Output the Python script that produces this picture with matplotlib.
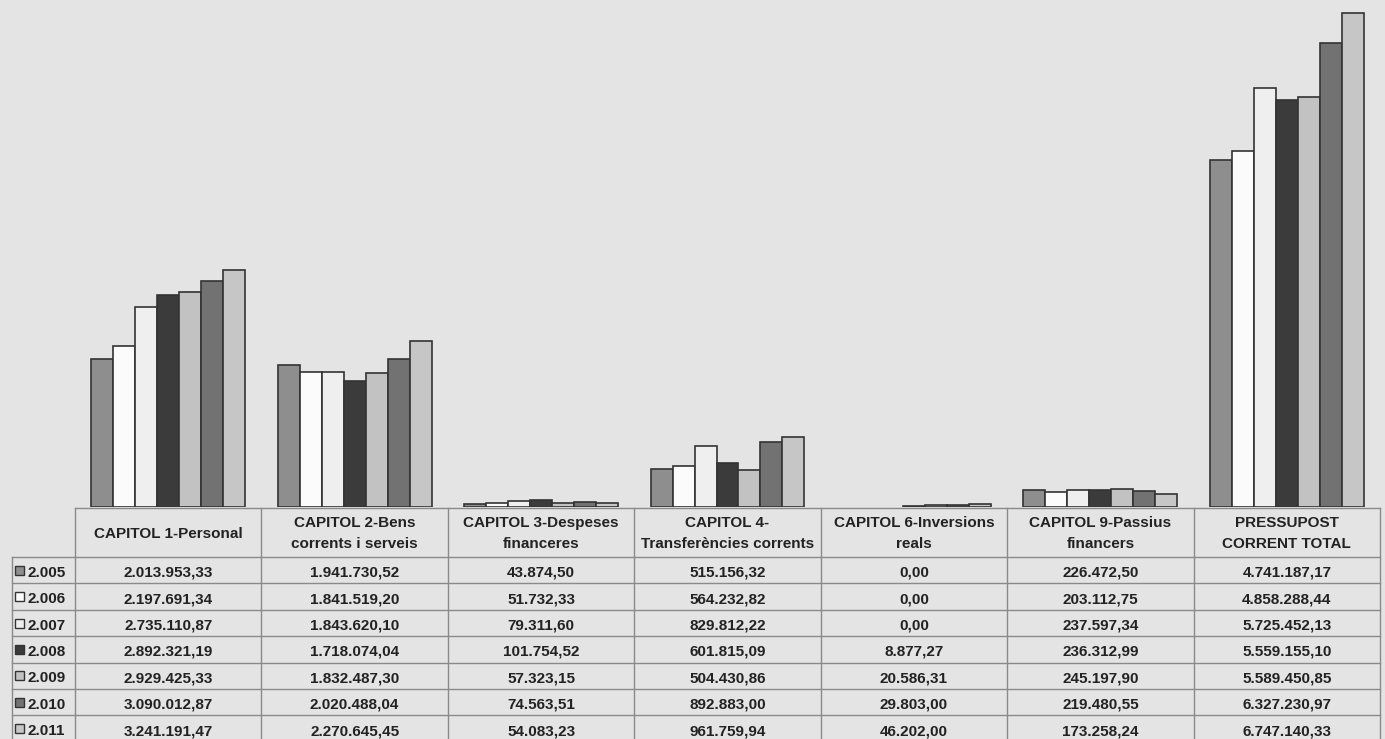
import numpy as np
import matplotlib.pyplot as plt

plt.rcParams['font.family'] = ['Liberation Sans', 'DejaVu Sans']

categories = ['CAPITOL 1-Personal', 'CAPITOL 2-Bens\ncorrents i serveis',
              'CAPITOL 3-Despeses\nfinanceres', 'CAPITOL 4-\nTransferències corrents',
              'CAPITOL 6-Inversions\nreals', 'CAPITOL 9-Passius\nfinancers',
              'PRESSUPOST\nCORRENT TOTAL']
years = ['2.005', '2.006', '2.007', '2.008', '2.009', '2.010', '2.011']

v2005 = [2013953.33, 1941730.52, 43874.50, 515156.32, 0.00, 226472.50, 4741187.17]
v2006 = [2197691.34, 1841519.20, 51732.33, 564232.82, 0.00, 203112.75, 4858288.44]
v2007 = [2735110.87, 1843620.10, 79311.60, 829812.22, 0.00, 237597.34, 5725452.13]
v2008 = [2892321.19, 1718074.04, 101754.52, 601815.09, 8877.27, 236312.99, 5559155.10]
v2009 = [2929425.33, 1832487.30, 57323.15, 504430.86, 20586.31, 245197.90, 5589450.85]
v2010 = [3090012.87, 2020488.04, 74563.51, 892883.00, 29803.00, 219480.55, 6327230.97]
v2011 = [3241191.47, 2270645.45, 54083.23, 961759.94, 46202.00, 173258.24, 6747140.33]
series = [v2005, v2006, v2007, v2008, v2009, v2010, v2011]

colors = ['#8e8e8e', '#fbfbfb', '#efefef', '#3b3b3b', '#c2c2c2', '#727272', '#c6c6c6']

def fmt(v):
    s = f"{v:,.2f}"
    return s.replace(',', 'X').replace('.', ',').replace('X', '.')

W, H = 1385, 739
bg = '#e4e4e4'
fig = plt.figure(figsize=(W / 100, H / 100), dpi=100, facecolor=bg)

# bar area
x0, x1, base = 75, 1380, 507
ax = fig.add_axes([x0 / W, (H - base) / H, (x1 - x0) / W, base / H])
ax.set_facecolor('none')
n = len(categories)
bw = 0.118
idx = np.arange(n)
for k, (vals, c) in enumerate(zip(series, colors)):
    lws = [1.2 if v > 0 else 0 for v in vals]
    ax.bar(idx + 0.5 + (k - 3) * bw, vals, width=bw, color=c,
           edgecolor='#333333', linewidth=lws)
ax.set_xlim(0, n)
ax.set_ylim(0, 6.92e6)
ax.axis('off')

# table drawn in pixel coordinates
tb = fig.add_axes([0, 0, 1, 1])
tb.set_xlim(0, W)
tb.set_ylim(H, 0)
tb.axis('off')
col_w = (x1 - x0) / n
lc = '#8a8a8a'
hdr_top, hdr_bot = 508, 557
row_h = 26.4
tb.plot([x0, x1], [hdr_top, hdr_top], color=lc, lw=1)
for j in range(n + 1):
    xx = x0 + j * col_w
    tb.plot([xx, xx], [hdr_top, H + 5], color=lc, lw=1)
tb.plot([12, 12], [hdr_bot, H + 5], color=lc, lw=1)
for i in range(len(years) + 1):
    yy = hdr_bot + i * row_h
    tb.plot([12, x1], [yy, yy], color=lc, lw=1)

fs = 11
for j, cat in enumerate(categories):
    tb.text(x0 + (j + 0.5) * col_w, (hdr_top + hdr_bot) / 2 + 1, cat,
            ha='center', va='center', fontsize=fs, fontweight='bold',
            color='#222222', linespacing=1.7)

for i, (yr, vals, c) in enumerate(zip(years, series, colors)):
    yc = hdr_bot + (i + 0.5) * row_h
    tb.add_patch(plt.Rectangle((15, yc - 4.5), 9, 9, facecolor=c,
                               edgecolor='#333333', lw=1))
    tb.text(27, yc + 1, yr, ha='left', va='center_baseline', fontsize=fs,
            fontweight='bold', color='#222222')
    for j, v in enumerate(vals):
        tb.text(x0 + (j + 0.5) * col_w, yc + 1, fmt(v), ha='center',
                va='center_baseline', fontsize=fs, fontweight='bold',
                color='#222222')

fig.savefig('out.png', dpi=100, facecolor=bg)
